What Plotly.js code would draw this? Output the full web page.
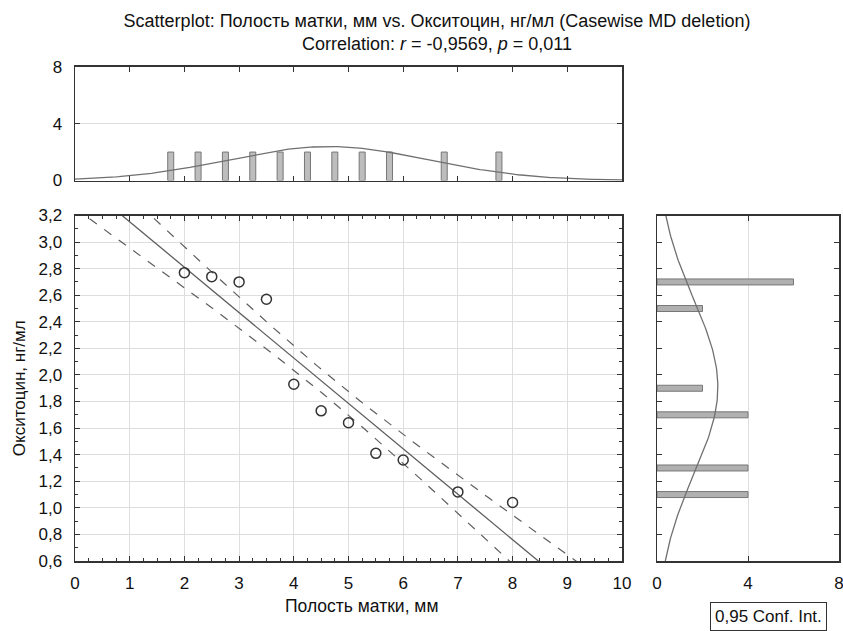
<!DOCTYPE html>
<html>
<head>
<meta charset="utf-8">
<script src="https://cdn.plot.ly/plotly-3.0.1.min.js"></script>
<style>html,body{margin:0;padding:0;background:#fff;}#chart{width:843px;height:631px;}</style>
</head>
<body>
<div id="chart"></div>
<script>
// ---- data ----
const uterusCavity = [2, 2.5, 3, 3.5, 4, 4.5, 5, 5.5, 6, 7, 8];                 // Полость матки, мм
const oxytocin     = [2.77, 2.74, 2.70, 2.57, 1.93, 1.73, 1.64, 1.41, 1.36, 1.12, 1.04]; // Окситоцин, нг/мл
const caseWeight = 2; // each case counted twice, as the histogram counts show

// top histogram (x distribution)
const histXPos    = [1.75, 2.25, 2.75, 3.25, 3.75, 4.25, 4.75, 5.25, 5.75, 6.75, 7.75];
const histXCounts = [2, 2, 2, 2, 2, 2, 2, 2, 2, 2, 2];
const histXBin = 0.5;

// right histogram (y distribution)
const histYPos    = [1.1, 1.3, 1.7, 1.9, 2.5, 2.7];
const histYCounts = [4, 4, 4, 2, 2, 6];
const histYBin = 0.2;

const tCrit = 2.086; // t(0.975, df = 20)

// ---- derived fit values ----
function mean(a){return a.reduce((s,v)=>s+v,0)/a.length;}
const n = uterusCavity.length * caseWeight;
const mx = mean(uterusCavity), my = mean(oxytocin);
let sxx=0, sxy=0, syy=0;
for(let i=0;i<uterusCavity.length;i++){const dx=uterusCavity[i]-mx, dy=oxytocin[i]-my; sxx+=caseWeight*dx*dx; sxy+=caseWeight*dx*dy; syy+=caseWeight*dy*dy;}
const slope = sxy/sxx, intercept = my - slope*mx;
const sRes = Math.sqrt((syy - slope*sxy)/(n-2));
const sdX = Math.sqrt(sxx/(n-1)), sdY = Math.sqrt(syy/(n-1));

const gx=[], fit=[], lo=[], hi=[];
for(let k=0;k<=200;k++){
  const x = k*0.05;
  const yh = intercept + slope*x;
  const h = tCrit*sRes*Math.sqrt(1/n + (x-mx)*(x-mx)/sxx);
  gx.push(x); fit.push(yh); lo.push(yh-h); hi.push(yh+h);
}
const totX = histXCounts.reduce((s,v)=>s+v,0), totY = histYCounts.reduce((s,v)=>s+v,0);
const nxGrid=[], nxVal=[];
for(let k=0;k<=200;k++){const x=k*0.05; nxGrid.push(x); nxVal.push(totX*histXBin*Math.exp(-0.5*Math.pow((x-mx)/sdX,2))/(sdX*Math.sqrt(2*Math.PI)));}
const nyGrid=[], nyVal=[];
for(let k=0;k<=130;k++){const y=0.6+k*0.02; nyGrid.push(y); nyVal.push(totY*histYBin*Math.exp(-0.5*Math.pow((y-my)/sdY,2))/(sdY*Math.sqrt(2*Math.PI)));}

const lineCol = '#5e5e5e';
const FONT = 'Liberation Sans, Arial, sans-serif';

const traces = [
  {type:'bar', x:histXPos, y:histXCounts, width:0.11, xaxis:'x2', yaxis:'y2',
   marker:{color:'#bdbdbd', line:{color:'#777', width:1}}, hoverinfo:'skip'},
  {type:'scatter', mode:'lines', x:nxGrid, y:nxVal, xaxis:'x2', yaxis:'y2',
   line:{color:'#707070', width:1.3}, hoverinfo:'skip'},
  {type:'bar', orientation:'h', y:histYPos, x:histYCounts, width:0.045, xaxis:'x3', yaxis:'y3',
   marker:{color:'#b0b0b0', line:{color:'#777', width:1}}, hoverinfo:'skip'},
  {type:'scatter', mode:'lines', x:nyVal, y:nyGrid, xaxis:'x3', yaxis:'y3',
   line:{color:'#707070', width:1.3}, hoverinfo:'skip'},
  {type:'scatter', mode:'lines', x:gx, y:lo, line:{color:lineCol, width:1.2, dash:'dash'}},
  {type:'scatter', mode:'lines', x:gx, y:hi, line:{color:lineCol, width:1.2, dash:'dash'}},
  {type:'scatter', mode:'lines', x:gx, y:fit, line:{color:lineCol, width:1.3}},
  {type:'scatter', mode:'markers', x:uterusCavity, y:oxytocin,
   marker:{symbol:'circle-open', size:10, color:'#333', line:{width:1.5, color:'#333'}}}
];

const axBase = {showline:true, linecolor:'#333', linewidth:1.5, mirror:'ticks', ticks:'inside',
  tickcolor:'#333', ticklen:5, zeroline:false, automargin:false, gridcolor:'#dedede',
  tickfont:{family:FONT, size:17, color:'#111'}, fixedrange:true, ticklabeloverflow:'allow'};

const layout = {
  width:843, height:631, autosize:false,
  margin:{l:0, r:0, t:0, b:0},
  paper_bgcolor:'#fff', plot_bgcolor:'#fff',
  showlegend:false, separators:', ', bargap:0,
  font:{family:FONT, color:'#111'},
  title:{text:'Scatterplot: Полость матки, мм vs. Окситоцин, нг/мл (Casewise MD deletion)<br>Correlation: <i>r</i> = -0,9569, <i>p</i> = 0,011',
    x:437/843, xanchor:'center', y:1-27/631, yanchor:'middle', yref:'container',
    font:{family:FONT, size:18, color:'#111'}},
  xaxis: Object.assign({}, axBase, {domain:[75/843, 622/843], range:[0,10], dtick:1, anchor:'y',
    showgrid:true, ticklabelstandoff:6,
    minor:{dtick:0.25, ticks:'inside', ticklen:3, tickcolor:'#333', showgrid:false}}),
  yaxis: Object.assign({}, axBase, {domain:[1-561/631, 1-215.5/631], range:[0.6,3.2], dtick:0.2, tick0:0.6,
    tickformat:'.1f', anchor:'x', showgrid:true, ticklabelstandoff:8,
    minor:{dtick:0.1, ticks:'inside', ticklen:3, tickcolor:'#333', showgrid:false},
    title:{text:'Окситоцин, нг/мл', font:{family:FONT, size:17, color:'#111'}, standoff:8}}),
  xaxis2: Object.assign({}, axBase, {domain:[75/843, 622/843], range:[0,10], dtick:1, anchor:'y2',
    showticklabels:false, showgrid:false}),
  yaxis2: Object.assign({}, axBase, {domain:[1-180.5/631, 1-66.7/631], range:[0,8], dtick:4, anchor:'x2',
    showgrid:true, ticklabelstandoff:8}),
  xaxis3: Object.assign({}, axBase, {domain:[657/843, 839/843], range:[0,8], dtick:4, anchor:'y3',
    showgrid:true, ticklabelstandoff:6}),
  yaxis3: Object.assign({}, axBase, {domain:[1-561/631, 1-215.5/631], range:[0.6,3.2], dtick:0.2, tick0:0.6,
    anchor:'x3', showticklabels:false, showgrid:false}),
  annotations:[
    {text:'Полость матки, мм', xref:'paper', yref:'paper', x:361/843, y:1-606/631, xanchor:'center', yanchor:'middle',
     showarrow:false, font:{family:FONT, size:17.5, color:'#111'}},
    {text:'0,95 Conf. Int.', xref:'paper', yref:'paper', x:768/843, y:1-616/631, xanchor:'center', yanchor:'middle',
     showarrow:false, bordercolor:'#333', borderwidth:1, borderpad:4, bgcolor:'#fff',
     font:{family:FONT, size:17, color:'#111'}}
  ]
};

Plotly.newPlot('chart', traces, layout, {staticPlot:true, displayModeBar:false});
</script>
</body>
</html>
